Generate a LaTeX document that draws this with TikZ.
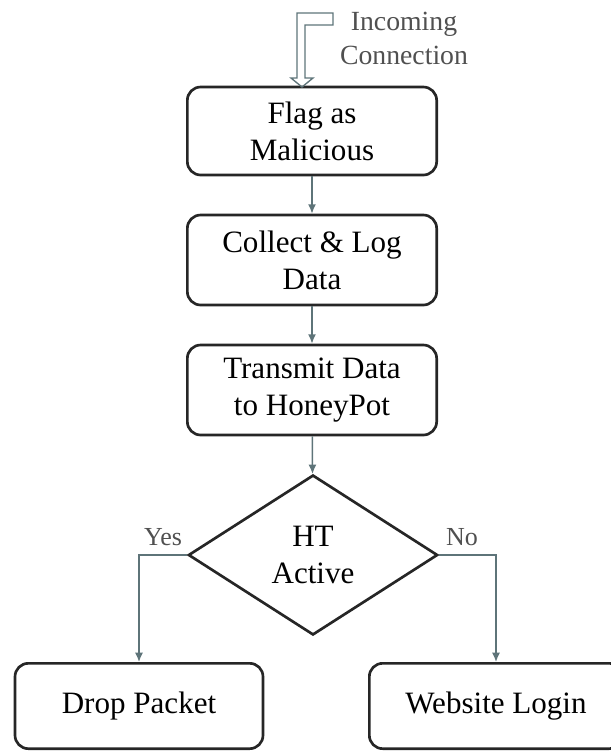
\documentclass[tikz,border=0pt]{standalone}
\usepackage{fontspec}
\setmainfont{Liberation Serif}
\usetikzlibrary{shapes.geometric,arrows.meta}
\definecolor{linkgray}{HTML}{5E7479}
\definecolor{notegray}{HTML}{505050}
\definecolor{boxline}{HTML}{262626}
\tikzset{
  stepbox/.style={draw=boxline, line width=2pt, rounded corners=10pt,
    minimum width=187pt, minimum height=66pt, inner sep=0pt, align=center,
    font=\fontsize{23.3}{27.8}\selectfont},
  decision/.style={diamond, draw=boxline, line width=2pt, aspect=1.55,
    minimum width=187pt, minimum height=120pt, inner sep=0pt, align=center,
    font=\fontsize{23.3}{27.8}\selectfont},
  link/.style={draw=linkgray, line width=1.1pt, -{Latex[length=7pt,width=6pt]}},
  note/.style={text=notegray, align=center, font=\fontsize{20.8}{25.5}\selectfont}
}
\begin{document}
\begin{tikzpicture}[x=0.75pt,y=-0.75pt]
    \useasboundingbox (0,0) rectangle (611,751);
    % steps
    \node[stepbox] (flag) at (312,131) {Flag as\\Malicious};
    \node[stepbox, minimum height=67.5pt] (collect) at (312,260) {Collect \& Log\\Data};
    \node[stepbox, minimum height=67.5pt] (transmit) at (312,390) {Transmit Data\\to HoneyPot};
    \node[decision] (active) at (313,555) {HT\\Active};
    \node[stepbox, minimum width=186pt, minimum height=64pt] (drop) at (139,706) {Drop Packet};
    \node[stepbox, minimum width=190pt, minimum height=64pt] (login) at (496,706) {Website Login};
    % incoming connection
    \draw[linkgray, line width=1pt, line join=miter]
        (297,13) -- (333,13) -- (333,25) -- (305,25) -- (305,78) -- (313,78)
        -- (302,87) -- (291,78) -- (297,78) -- cycle;
    \node[note] (incoming) at (404,38) {Incoming\\Connection};
    % links
    \draw[link] (flag) -- (collect);
    \draw[link] (collect) -- (transmit);
    \draw[link] (transmit) -- (active);
    \draw[link] (active.west) -| (drop.north);
    \draw[link] (active.east) -| (login.north);
    \node[note, font=\fontsize{19.5}{23}\selectfont] (yes) at (163,537) {Yes};
    \node[note, font=\fontsize{19.5}{23}\selectfont] (no) at (462,537) {No};
\end{tikzpicture}
\end{document}
